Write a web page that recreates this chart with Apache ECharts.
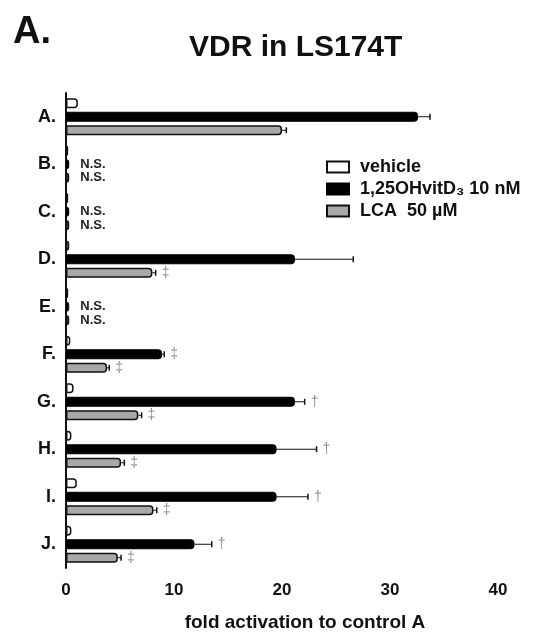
<!DOCTYPE html>
<html>
<head>
<meta charset="utf-8">
<script src="https://cdn.jsdelivr.net/npm/echarts@6/dist/echarts.min.js"></script>
<style>
	html,body{margin:0;padding:0;background:#fff;}
	#chart{width:540px;height:637px;}
</style>
</head>
<body>
<div id="chart"></div>
<script>
	// 数据
	const categories = ['A.', 'B.', 'C.', 'D.', 'E.', 'F.', 'G.', 'H.', 'I.', 'J.']
	const vehicle = [1.1, 0.2, 0.2, 0.3, 0.2, 0.4, 0.7, 0.5, 1.0, 0.5]
	const vitD = [32.6, 0.3, 0.3, 21.2, 0.3, 8.9, 21.2, 19.5, 19.5, 11.9]
	const vitDErr = [1.1, 0, 0, 5.4, 0, 0.2, 0.9, 3.7, 2.9, 1.6]
	const lca = [20.0, 0.3, 0.3, 8.0, 0.3, 3.8, 6.7, 5.1, 8.1, 4.8]
	const lcaErr = [0.4, 0, 0, 0.3, 0, 0.2, 0.3, 0.3, 0.3, 0.3]
	const vitDMark = ['', '', '', '', '', '‡', '†', '†', '†', '†']
	const lcaMark = ['', '', '', '‡', '', '‡', '‡', '‡', '‡', '‡']
	const nsFlag = ['', 'N.S.', 'N.S.', '', 'N.S.', '', '', '', '', '']
	const xTicks = [0, 10, 20, 30, 40]

	const fontFamily = '"Liberation Sans", Arial, sans-serif'
	const barW = 10
	const barGap = 0.35

	const chart = echarts.init(document.getElementById('chart'))

	const barData = (vals) => vals.map((v, i) => {
		let item = { value: v }
		if (nsFlag[i]) {
			item.label = {
				show: true,
				position: 'right',
				distance: 11,
				formatter: nsFlag[i],
				fontSize: 13,
				fontWeight: 'bold',
				fontFamily: fontFamily,
				color: '#222'
			}
		}
		return item
	})

	// 误差线 + 标记
	const errSeries = (name, vals, errs, marks, slot) => ({
		name: name + '_err',
		type: 'custom',
		z: 5,
		silent: true,
		data: vals.map((v, i) => [v, i, errs[i], i]),
		encode: { x: 0, y: 1 },
		renderItem: (params, api) => {
			const v = api.value(0)
			const ci = api.value(1)
			const e = api.value(2)
			const idx = api.value(3)
			const off = slot * barW * (1 + barGap)
			const p0 = api.coord([v, ci])
			const p1 = api.coord([v + e, ci])
			const y = p0[1] + off
			let children = []
			if (e > 0) {
				children.push({
					type: 'line',
					shape: { x1: p0[0], y1: y, x2: p1[0], y2: y },
					style: { stroke: '#111', lineWidth: 1 }
				})
				children.push({
					type: 'line',
					shape: { x1: p1[0], y1: y - 3, x2: p1[0], y2: y + 3 },
					style: { stroke: '#111', lineWidth: 1.5 }
				})
			}
			if (marks[idx]) {
				children.push({
					type: 'text',
					x: p1[0] + 6,
					y: y,
					style: {
						text: marks[idx],
						fill: '#8f8f8f',
						fontSize: 14,
						fontFamily: fontFamily,
						verticalAlign: 'middle',
						align: 'left'
					}
				})
			}
			return { type: 'group', children: children }
		}
	})

	const option = {
		backgroundColor: '#fff',
		animation: false,
		title: [{
			text: 'A.',
			left: 8,
			top: 9,
			textStyle: { fontSize: 38, fontWeight: 'bold', fontFamily: fontFamily, color: '#111' }
		}, {
			text: 'VDR in LS174T',
			left: 184,
			top: 28,
			textStyle: { fontSize: 30, fontWeight: 'bold', fontFamily: fontFamily, color: '#111' }
		}],
		legend: {
			orient: 'vertical',
			left: 321,
			top: 153,
			itemWidth: 22,
			itemHeight: 11,
			itemGap: 4,
			icon: 'rect',
			textStyle: { fontSize: 18, fontWeight: 'bold', fontFamily: fontFamily, color: '#111', padding: [0, 0, 0, 6] },
			data: ['vehicle', '1,25OHvitD₃ 10 nM', 'LCA  50 µM']
		},
		grid: { left: 66, right: 42, top: 93, bottom: 68 },
		xAxis: {
			type: 'value',
			min: xTicks[0],
			max: xTicks[xTicks.length - 1],
			interval: 10,
			name: 'fold activation to control A',
			nameLocation: 'middle',
			nameGap: 45,
			nameTextStyle: { fontSize: 19, fontWeight: 'bold', fontFamily: fontFamily, color: '#111', padding: [0, 0, 0, 46] },
			axisLine: { lineStyle: { color: '#111', width: 2 } },
			axisTick: { inside: true, length: 4, lineStyle: { color: '#111', width: 2 } },
			axisLabel: { fontSize: 17, fontWeight: 'bold', fontFamily: fontFamily, color: '#111', margin: 14 },
			splitLine: { show: false }
		},
		yAxis: {
			type: 'category',
			inverse: true,
			data: categories,
			axisLine: { lineStyle: { color: '#111', width: 2 } },
			axisTick: { alignWithLabel: true, length: 6, lineStyle: { color: '#111', width: 2 } },
			axisLabel: { fontSize: 18, fontWeight: 'bold', fontFamily: fontFamily, color: '#111', margin: 10 }
		},
		series: [{
			name: 'vehicle',
			type: 'bar',
			barWidth: barW,
			barGap: (barGap * 100) + '%',
			itemStyle: { color: '#fff', borderColor: '#111', borderWidth: 1.5, borderRadius: [0, 3, 3, 0] },
			data: vehicle
		}, {
			name: '1,25OHvitD₃ 10 nM',
			type: 'bar',
			barWidth: barW,
			barGap: (barGap * 100) + '%',
			itemStyle: { color: '#000', borderColor: '#000', borderWidth: 1, borderRadius: [0, 3, 3, 0] },
			data: barData(vitD)
		}, {
			name: 'LCA  50 µM',
			type: 'bar',
			barWidth: barW,
			barGap: (barGap * 100) + '%',
			itemStyle: { color: '#a8a8a8', borderColor: '#111', borderWidth: 1.5, borderRadius: [0, 3, 3, 0] },
			data: barData(lca)
		},
		errSeries('vitD', vitD, vitDErr, vitDMark, 0),
		errSeries('lca', lca, lcaErr, lcaMark, 1)
		]
	}

	chart.setOption(option)
</script>
</body>
</html>
